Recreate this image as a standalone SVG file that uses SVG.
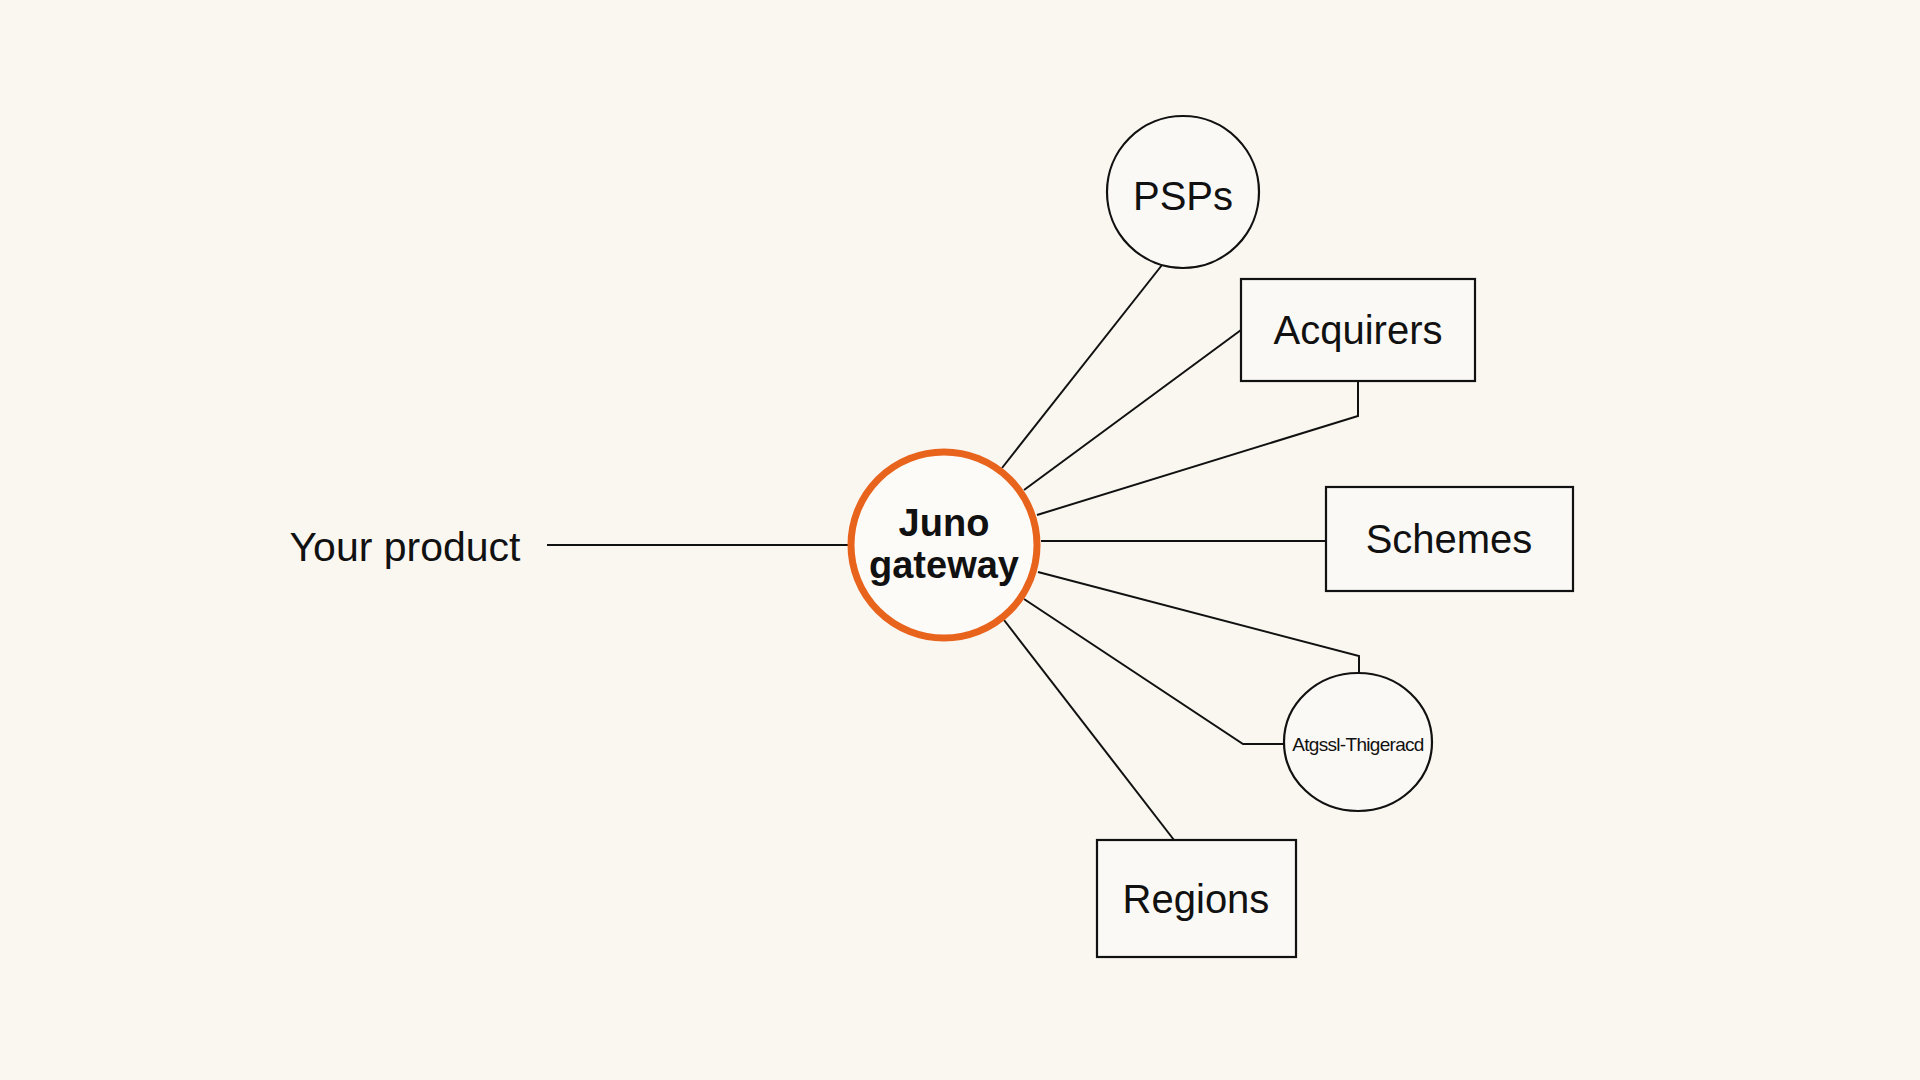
<svg xmlns="http://www.w3.org/2000/svg" width="1920" height="1080" viewBox="0 0 1920 1080">
<style>
.bg{fill:#faf7f1}
.node{fill:#fbf9f5;stroke:#111;stroke-width:2.2}
.edge{fill:none;stroke:#111;stroke-width:2}
.lbl{font-family:"Liberation Sans",Arial,sans-serif;font-size:40px;fill:#111;text-anchor:middle}
.hub{fill:#fdfbf8;stroke:#e8631c;stroke-width:7}
.hubt{font-family:"Liberation Sans",Arial,sans-serif;font-size:38px;font-weight:bold;fill:#111;text-anchor:middle}
</style>
<rect class="bg" x="0" y="0" width="1920" height="1080"/>
<g id="connectors">
<line class="edge" x1="547" y1="545" x2="848" y2="545"/>
<line class="edge" x1="1002" y1="468" x2="1162" y2="265"/>
<line class="edge" x1="1024" y1="490" x2="1241" y2="330"/>
<polyline class="edge" points="1037,515 1358,416 1358,381"/>
<line class="edge" x1="1041" y1="541" x2="1326" y2="541"/>
<polyline class="edge" points="1038,572 1359,656 1359,673"/>
<polyline class="edge" points="1024,599 1243,744 1284,744"/>
<line class="edge" x1="1004" y1="620" x2="1174" y2="840"/>
</g>
<g id="your-product">
<text class="lbl" x="405" y="561" style="font-size:41px">Your product</text>
</g>
<g id="juno-gateway">
<circle class="hub" cx="944" cy="545" r="93"/>
<text class="hubt" x="944" y="536">Juno</text>
<text class="hubt" x="944" y="578">gateway</text>
</g>
<g id="psps">
<circle class="node" cx="1183" cy="192" r="76"/>
<text class="lbl" x="1183" y="210">PSPs</text>
</g>
<g id="acquirers">
<rect class="node" x="1241" y="279" width="234" height="102"/>
<text class="lbl" x="1358" y="344">Acquirers</text>
</g>
<g id="schemes">
<rect class="node" x="1326" y="487" width="247" height="104"/>
<text class="lbl" x="1449" y="553">Schemes</text>
</g>
<g id="atgssl-thigeracd">
<ellipse class="node" cx="1358" cy="742" rx="74" ry="69"/>
<text class="lbl" x="1358" y="751" style="font-size:19px;letter-spacing:-0.7px">Atgssl-Thigeracd</text>
</g>
<g id="regions">
<rect class="node" x="1097" y="840" width="199" height="117"/>
<text class="lbl" x="1196" y="913">Regions</text>
</g>
</svg>
